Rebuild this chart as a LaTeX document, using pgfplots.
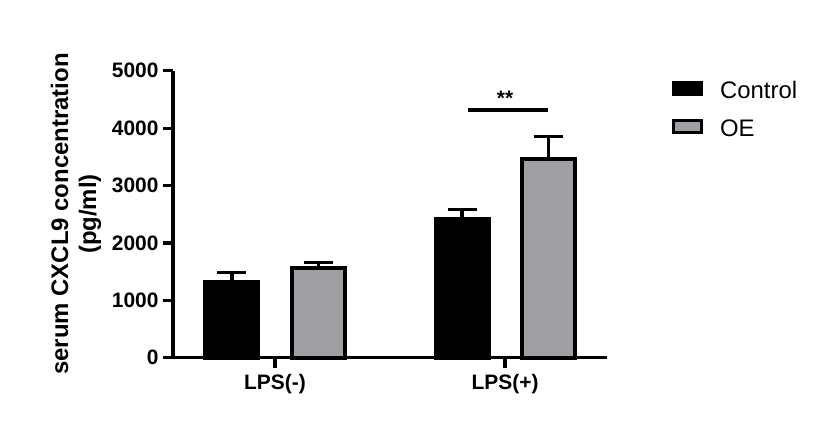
\documentclass[border=0pt]{standalone}
\usepackage{fontspec}
\setmainfont{Liberation Sans}
\usepackage{pgfplots}
\pgfplotsset{compat=1.18}
\definecolor{oegray}{RGB}{160,160,164}
\begin{document}
\begin{tikzpicture}
\path[use as bounding box] (0,0) rectangle (825bp,431bp);
\begin{axis}[
  at={(173bp,73.3bp)}, anchor=south west,
  scale only axis, width=434bp, height=287bp,
  xmin=-0.443, xmax=1.443, ymin=0, ymax=5000,
  axis x line*=bottom, axis y line*=left,
  axis line style={line width=3.2bp, -},
  every tick/.style={line width=3.2bp, black},
  tick align=outside, major tick length=10bp,
  xtick={0,1}, xticklabels={LPS(-),LPS(+)},
  ytick={0,1000,2000,3000,4000,5000},
  yticklabels={0,1000,2000,3000,4000,5000},
  tick label style={font=\fontsize{21}{21}\selectfont\bfseries},
  xticklabel style={yshift=-3bp},
  yticklabel style={xshift=-1bp, font=\fontsize{21}{21}\selectfont\bfseries},
  legend style={draw=none, fill=none, at={(axis description cs:1.150,0.965)}, anchor=north west,
    inner sep=0pt, outer sep=0pt, nodes={inner sep=0pt, outer sep=0pt},
    font=\fontsize{24}{24}\selectfont, row sep=19bp},
  legend cell align=left,
  legend image code/.code={\draw[#1, line width=3bp] (0bp,-3.8bp) rectangle (28bp,8.2bp);},
  clip=false,
]
\addplot[ybar, bar width=0.2304, bar shift=0pt, fill=black, draw=black, line width=4bp,
  error bars/.cd, y dir=plus, y explicit, error mark=|,
  error bar style={line width=3.2bp, black},
  error mark options={line width=3bp, black, mark size=14.5bp}]
  coordinates {(-0.187,1315) +- (0,175) (0.813,2413) +- (0,165)};
\addlegendentry{\hspace{17bp}Control}
\addplot[ybar, bar width=0.2304, bar shift=0pt, fill=oegray, draw=black, line width=4bp,
  error bars/.cd, y dir=plus, y explicit, error mark=|,
  error bar style={line width=3.2bp, black},
  error mark options={line width=3bp, black, mark size=14.5bp}]
  coordinates {(0.188,1568) +- (0,94) (1.188,3456) +- (0,394)};
\addlegendentry{\hspace{17bp}OE}
\addplot[line width=3.5bp, black, forget plot] coordinates {(0.84,4315) (1.188,4315)};
\node[font=\fontsize{21}{21}\selectfont\bfseries, anchor=base] at (axis cs:1.0,4390) {**};
\end{axis}
\node[rotate=90, align=center, font=\fontsize{24}{28}\selectfont\bfseries] at (76bp,217bp)
  {serum CXCL9 concentration\\(pg/ml)};
\end{tikzpicture}
\end{document}
